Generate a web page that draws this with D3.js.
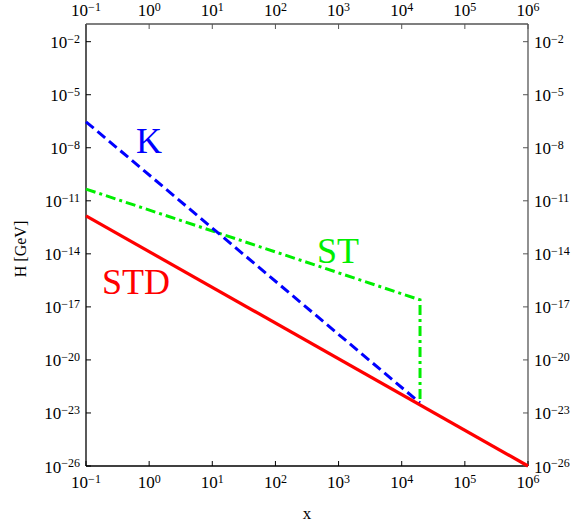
<!DOCTYPE html>
<html>
<head>
<meta charset="utf-8">
<script src="https://cdn.jsdelivr.net/npm/d3@7"></script>
<style>
  body { margin: 0; background: #fff; }
  text { font-family: "Liberation Serif", "Times New Roman", serif; }
</style>
</head>
<body>
<div id="main"></div>
<script>
// data
var xTicks = [1e-1, 1e0, 1e1, 1e2, 1e3, 1e4, 1e5, 1e6];
var yTicks = [1e-26, 1e-23, 1e-20, 1e-17, 1e-14, 1e-11, 1e-8, 1e-5, 1e-2];

var stdX = [0.1, 1e6];
var stdH = [1.4e-12, 1e-26];

var kX = [0.1, 1.95e4];
var kH = [2.95e-7, 3.7e-23];

var stX = [0.1, 1.95e4, 1.95e4];
var stH = [4.6e-11, 2.5e-17, 4.2e-23];

var dimensions = {
  width: 574,
  height: 527,
  margin: { top: 24, bottom: 61, left: 86, right: 46 }
};
dimensions.boundedWidth = dimensions.width - dimensions.margin.left - dimensions.margin.right;
dimensions.boundedHeight = dimensions.height - dimensions.margin.top - dimensions.margin.bottom;

var svg = d3.select("#main")
  .append("svg")
    .attr("width", dimensions.width)
    .attr("height", dimensions.height);

var g = svg.append("g")
  .attr("transform", "translate(" + dimensions.margin.left + "," + dimensions.margin.top + ")");

var x = d3.scaleLog()
  .domain([1e-1, 1e6])
  .range([0, dimensions.boundedWidth]);

var y = d3.scaleLog()
  .domain([1e-26, 1e-1])
  .range([dimensions.boundedHeight, 0]);

// tick label as 10 with a raised exponent
function powLabel(sel) {
  sel.each(function(d) {
    var t = d3.select(this).text(null);
    var e = Math.round(Math.log10(d));
    t.append("tspan").text("10");
    t.append("tspan")
      .attr("dy", "-0.45em")
      .attr("font-size", "12px")
      .text(e < 0 ? "\u2212" + (-e) : e);
  });
}

var tickLen = 5;

// frame
g.append("line").attr("x1", 0).attr("x2", 0).attr("y1", 0).attr("y2", dimensions.boundedHeight)
  .attr("stroke", "#000").attr("stroke-width", 1.3);
g.append("line").attr("x1", 0).attr("x2", dimensions.boundedWidth).attr("y1", dimensions.boundedHeight).attr("y2", dimensions.boundedHeight)
  .attr("stroke", "#000").attr("stroke-width", 1.3);
g.append("line").attr("x1", 0).attr("x2", dimensions.boundedWidth).attr("y1", 0).attr("y2", 0)
  .attr("stroke", "#555").attr("stroke-width", 1.3);
g.append("line").attr("x1", dimensions.boundedWidth).attr("x2", dimensions.boundedWidth).attr("y1", 0).attr("y2", dimensions.boundedHeight)
  .attr("stroke", "#555").attr("stroke-width", 1.3);

// x ticks, bottom and top
xTicks.forEach(function(v) {
  g.append("line")
    .attr("x1", x(v)).attr("x2", x(v))
    .attr("y1", dimensions.boundedHeight).attr("y2", dimensions.boundedHeight - tickLen)
    .attr("stroke", "#000");
  g.append("line")
    .attr("x1", x(v)).attr("x2", x(v))
    .attr("y1", 0).attr("y2", tickLen)
    .attr("stroke", "#555");
});

g.selectAll(".xb").data(xTicks).enter().append("text")
  .attr("x", function(d) { return x(d); })
  .attr("y", dimensions.boundedHeight + 22)
  .attr("text-anchor", "middle")
  .attr("font-size", "17px")
  .call(powLabel);

g.selectAll(".xt").data(xTicks).enter().append("text")
  .attr("x", function(d) { return x(d); })
  .attr("y", -8)
  .attr("text-anchor", "middle")
  .attr("font-size", "17px")
  .call(powLabel);

// y ticks, left and right
yTicks.forEach(function(v) {
  g.append("line")
    .attr("x1", 0).attr("x2", tickLen)
    .attr("y1", y(v)).attr("y2", y(v))
    .attr("stroke", "#000");
  g.append("line")
    .attr("x1", dimensions.boundedWidth).attr("x2", dimensions.boundedWidth - tickLen)
    .attr("y1", y(v)).attr("y2", y(v))
    .attr("stroke", "#555");
});

g.selectAll(".yl").data(yTicks).enter().append("text")
  .attr("x", -6)
  .attr("y", function(d) { return y(d) + 6.5; })
  .attr("text-anchor", "end")
  .attr("font-size", "17px")
  .call(powLabel);

g.selectAll(".yr").data(yTicks).enter().append("text")
  .attr("x", dimensions.boundedWidth + 6)
  .attr("y", function(d) { return y(d) + 6.5; })
  .attr("text-anchor", "start")
  .attr("font-size", "17px")
  .call(powLabel);

// axis titles
svg.append("text")
  .attr("x", dimensions.margin.left + dimensions.boundedWidth / 2)
  .attr("y", 519)
  .attr("text-anchor", "middle")
  .attr("font-size", "17px")
  .text("x");

svg.append("text")
  .attr("transform", "translate(26," + (dimensions.margin.top + dimensions.boundedHeight / 2 + 4) + ") rotate(-90)")
  .attr("text-anchor", "middle")
  .attr("font-size", "16px")
  .text("H [GeV]");

// curves
var line = d3.line()
  .x(function(d) { return x(d[0]); })
  .y(function(d) { return y(d[1]); });

g.append("path")
  .datum(d3.zip(stX, stH))
  .attr("d", line)
  .attr("fill", "none")
  .attr("stroke", "#00ee00")
  .attr("stroke-width", 3)
  .attr("stroke-dasharray", "10,4,3,4");

g.append("path")
  .datum(d3.zip(kX, kH))
  .attr("d", line)
  .attr("fill", "none")
  .attr("stroke", "#0000ff")
  .attr("stroke-width", 3)
  .attr("stroke-dasharray", "10,5");

g.append("path")
  .datum(d3.zip(stdX, stdH))
  .attr("d", line)
  .attr("fill", "none")
  .attr("stroke", "#ff0000")
  .attr("stroke-width", 3.2);

// curve labels
svg.append("text").attr("x", 136).attr("y", 153)
  .attr("font-size", "36px").attr("fill", "#0000ff").text("K");
svg.append("text").attr("x", 317).attr("y", 263)
  .attr("font-size", "36px").attr("fill", "#00ee00").text("ST");
svg.append("text").attr("x", 102).attr("y", 294)
  .attr("font-size", "36px").attr("fill", "#ff0000").text("STD");
</script>
</body>
</html>
